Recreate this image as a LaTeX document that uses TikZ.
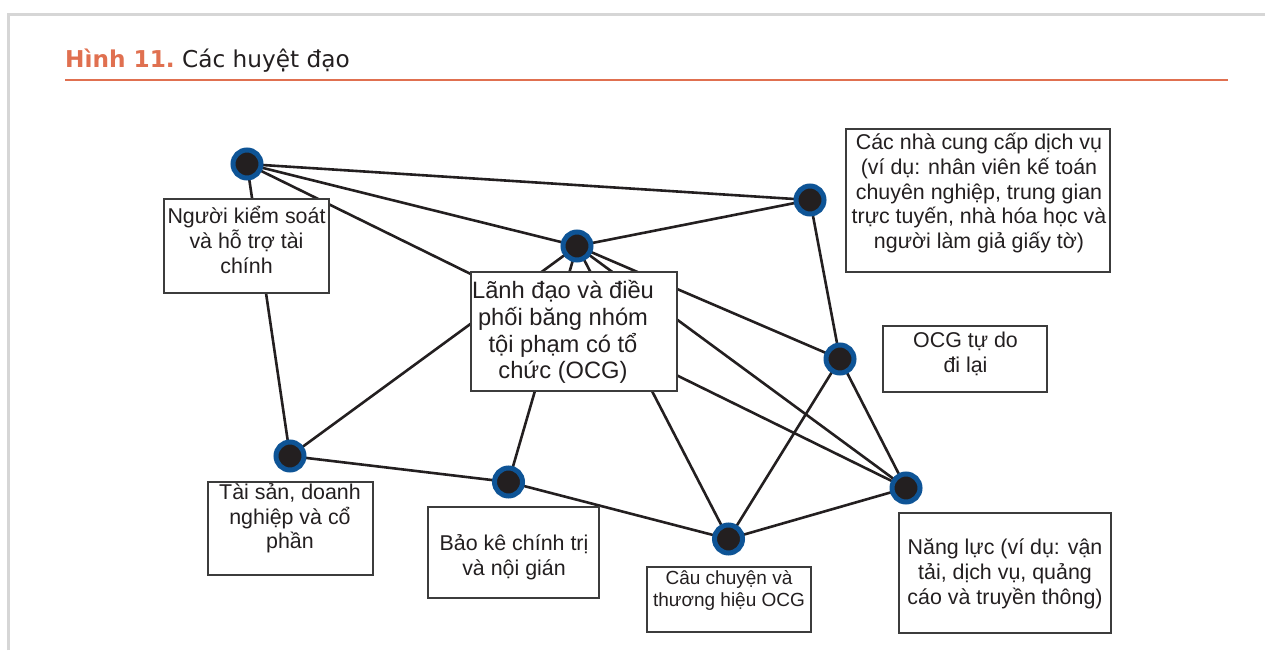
\documentclass[tikz,border=0pt]{standalone}
\usepackage{fontspec}
\setmainfont{Liberation Sans}
\newfontfamily\titlefont{DejaVu Sans}
\usetikzlibrary{backgrounds}
\definecolor{ocgblue}{RGB}{14,84,150}
\definecolor{ink}{RGB}{35,31,32}
\definecolor{titleorange}{RGB}{224,112,80}
\definecolor{framegray}{RGB}{214,214,214}
\definecolor{boxgray}{RGB}{60,60,60}
\begin{document}
\begin{tikzpicture}[x=1pt,y=-1pt,
  hub/.style={circle, draw=ocgblue, line width=5pt, fill=ink, minimum size=28pt, inner sep=0pt},
  tie/.style={draw=ink, line width=2.6pt},
  panel/.style={rectangle, draw=boxgray, line width=1.4pt, fill=white, inner sep=0pt},
  lbl/.style={align=center, font=\fontsize{21.4}{24.7}\selectfont, text=ink, inner sep=0pt},
  biglbl/.style={lbl, font=\fontsize{23.7}{26.7}\selectfont},
  smalllbl/.style={lbl, font=\fontsize{19}{22}\selectfont}
]
\useasboundingbox (0,0) rectangle (1265,650);
% outer frame and title
\draw[framegray, line width=3pt] (8.5,650) -- (8.5,14.5) -- (1265,14.5);
\node[anchor=base west, inner sep=0pt] (title) at (65,68)
  {\titlefont\fontsize{23.2}{28}\selectfont\textcolor{titleorange}{\bfseries Hình 11.}\ \textcolor{ink}{Các huyệt đạo}};
\coordinate (ruleL) at (65,80);
\coordinate (ruleR) at (1227.5,80);
\draw[titleorange, line width=2.8pt] (ruleL) -- (ruleR);

% hubs
\node[hub] (A) at (247,164) {};
\node[hub] (B) at (810,200) {};
\node[hub] (C) at (577,246) {};
\node[hub] (D) at (840,359) {};
\node[hub] (E) at (290,456) {};
\node[hub] (F) at (508.5,482) {};
\node[hub] (G) at (728.5,539) {};
\node[hub] (H) at (906,488) {};

% boxes
\node[panel, minimum width=165pt, minimum height=94pt] (b1) at (246.5,246) {};
\node[lbl] (t1) at (246.5,240) {Người kiểm soát\\và hỗ trợ tài\\chính};

\node[panel, minimum width=206pt, minimum height=119pt] (b2) at (574,331.5) {};
\node[biglbl] (t2) at (563,332) {Lãnh đạo và điều\\phối băng nhóm\\tội phạm có tổ\\chức (OCG)};

\node[panel, minimum width=264pt, minimum height=143pt] (b3) at (978,200.5) {};
\node[lbl] (t3) at (979,193) {Các nhà cung cấp dịch vụ\\(ví dụ: nhân viên kế toán\\chuyên nghiệp, trung gian\\trực tuyến, nhà hóa học và\\người làm giả giấy tờ)};

\node[panel, minimum width=164pt, minimum height=66pt] (b4) at (965,359) {};
\node[lbl] (t4) at (965.5,354) {OCG tự do\\đi lại};

\node[panel, minimum width=165pt, minimum height=93pt] (b5) at (290.5,528.5) {};
\node[lbl] (t5) at (290,518.5) {Tài sản, doanh\\nghiệp và cổ\\phần};

\node[panel, minimum width=171pt, minimum height=91pt] (b6) at (513.5,552.5) {};
\node[lbl] (t6) at (514,557) {Bảo kê chính trị\\và nội gián};

\node[panel, minimum width=164pt, minimum height=65pt] (b7) at (729,599.5) {};
\node[smalllbl] (t7) at (729,590) {Câu chuyện và\\thương hiệu OCG};

\node[panel, minimum width=212pt, minimum height=120pt] (b8) at (1005,573) {};
\node[lbl] (t8) at (1005,574) {Năng lực (ví dụ: vận\\tải, dịch vụ, quảng\\cáo và truyền thông)};

% connectors
\begin{pgfonlayer}{background}
\foreach \p/\q in {A/B, A/C, A/H, A/E, C/B, C/D, C/H, C/G, C/F, C/E, B/D, D/G, D/H, E/F, F/G, G/H}
  \draw[tie] (\p.center) -- (\q.center);
\end{pgfonlayer}
\end{tikzpicture}
\end{document}
